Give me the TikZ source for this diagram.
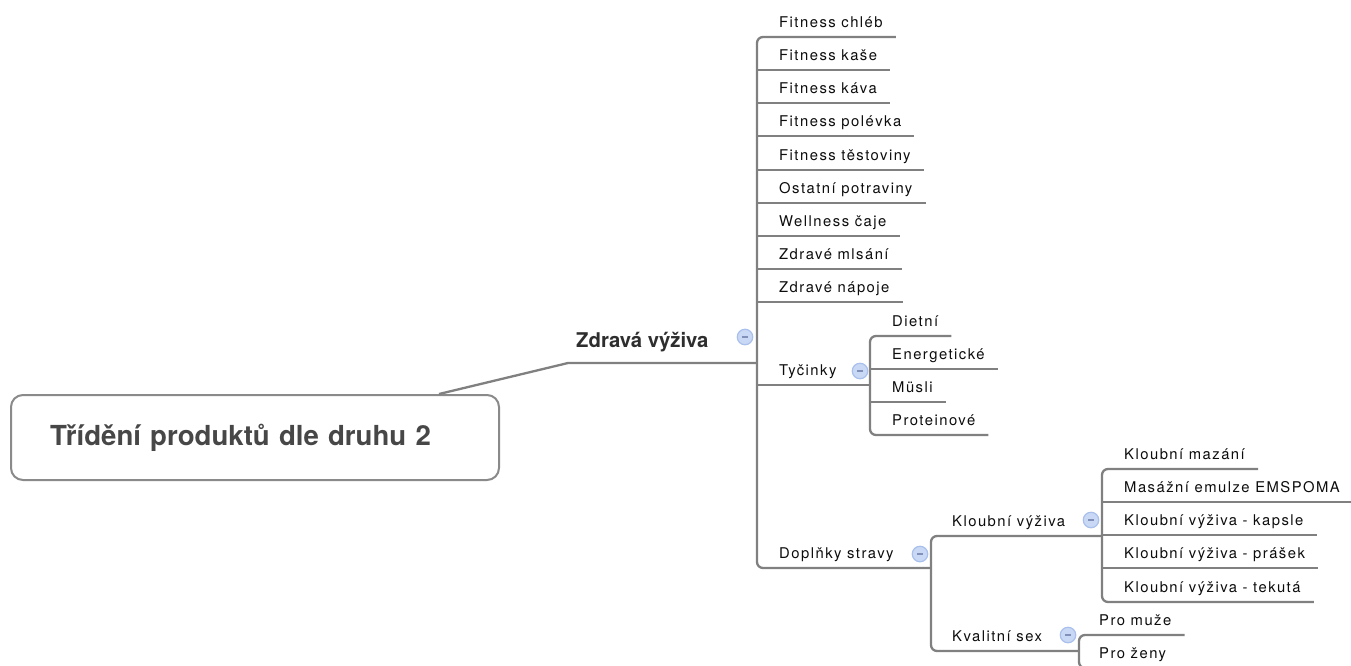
\documentclass[tikz,border=0pt]{standalone}
\usepackage{fontspec}
\setmainfont{TeX Gyre Heros}
\newfontfamily\childfont{TeX Gyre Heros}[LetterSpace=10]
\usetikzlibrary{calc}
\definecolor{linegray}{HTML}{808080}
\definecolor{boxgray}{HTML}{8A8A8A}
\definecolor{titlegray}{HTML}{474747}
\definecolor{zvgray}{HTML}{2E2E2E}
\definecolor{txt}{HTML}{0D0D0D}
\definecolor{tfill}{HTML}{C9D8F4}
\definecolor{tdraw}{HTML}{A9C0EC}
\definecolor{tminus}{HTML}{8090B8}
\newcommand\ul[2]{($(#1.base west)+(#2,10)$)}
\newcommand\ue[1]{($(#1.base east)+(13,10)$)}
\begin{document}
\begin{tikzpicture}[x=1pt,y=-1pt,
  line/.style={draw=linegray,line width=2.3pt},
  leaf/.style={anchor=base west,inner sep=0pt,text=txt,font=\childfont\fontsize{14.8}{17}\selectfont},
  toggle/.style={circle,draw=tdraw,fill=tfill,line width=1.2pt,minimum size=15.5pt,inner sep=0pt,
    path picture={\fill[tminus] ([xshift=-3.3pt,yshift=-1pt]path picture bounding box.center) rectangle ++(6.6pt,2pt);}},
  rootbox/.style={draw=boxgray,line width=2pt,rounded corners=12pt,anchor=north west,
    minimum height=85pt,text width=410pt,inner xsep=39pt,align=left,text=titlegray,
    font=\bfseries\fontsize{27.6}{32}\selectfont},
  zvstyle/.style={anchor=base west,inner sep=0pt,text=zvgray,font=\bfseries\fontsize{20.3}{24}\selectfont}
]
\useasboundingbox (0,0) rectangle (1351,665);
\clip (0,0) rectangle (1351,665);
\fill[white] (0,0) rectangle (1351,665);

% root
\node[rootbox] (root) at (10,394) {Třídění produktů dle druhu 2};
\node[zvstyle] (zv) at (576,347) {Zdravá výživa};
\node[toggle] (zvt) at (745,337) {};

% main children
\node[leaf] (c1) at (779,27) {Fitness chléb};
\node[leaf] (c2) at (779,60) {Fitness kaše};
\node[leaf] (c3) at (779,93) {Fitness káva};
\node[leaf] (c4) at (779,126) {Fitness polévka};
\node[leaf] (c5) at (779,160) {Fitness těstoviny};
\node[leaf] (c6) at (779,193) {Ostatní potraviny};
\node[leaf] (c7) at (779,226) {Wellness čaje};
\node[leaf] (c8) at (779,259) {Zdravé mlsání};
\node[leaf] (c9) at (779,292) {Zdravé nápoje};
\node[leaf] (ty) at (779,375) {Tyčinky};
\node[toggle] (tyt) at (860,371) {};
\node[leaf] (dop) at (779,558) {Doplňky stravy};
\node[toggle] (dopt) at (920,554) {};

% Tyčinky children
\node[leaf] (t1) at (892,326) {Dietní};
\node[leaf] (t2) at (892,359) {Energetické};
\node[leaf] (t3) at (892,392) {Müsli};
\node[leaf] (t4) at (892,425) {Proteinové};

% Doplňky children
\node[leaf] (kv) at (952,526) {Kloubní výživa};
\node[toggle] (kvt) at (1091,520) {};
\node[leaf] (ks) at (952,641) {Kvalitní sex};
\node[toggle] (kst) at (1068,635) {};

\node[leaf] (k1) at (1124,459) {Kloubní mazání};
\node[leaf] (k2) at (1124,492) {Masážní emulze EMSPOMA};
\node[leaf] (k3) at (1124,525) {Kloubní výživa - kapsle};
\node[leaf] (k4) at (1124,558) {Kloubní výživa - prášek};
\node[leaf] (k5) at (1124,592) {Kloubní výživa - tekutá};

\node[leaf] (p1) at (1099,625) {Pro muže};
\node[leaf] (p2) at (1099,658) {Pro ženy};

% junction coordinates
\coordinate (zvj) at (757,363);
\coordinate (tyj) at (870,385);
\coordinate (dopj) at (931,568);
\coordinate (kvj) at (1102,536);
\coordinate (ksj) at (1079,651);

% connectors
\draw[line] ([xshift=-61pt]root.north east) -- ($(zv.base west)+(-8,16)$) -- (zvj);
\draw[line,rounded corners=6pt] \ue{c1} -- \ul{c1}{-22} -- \ul{dop}{-22} -- (dopj);
\foreach \n in {c2,c3,c4,c5,c6,c7,c8,c9}{\draw[line] \ul{\n}{-22} -- \ue{\n};}
\draw[line] \ul{ty}{-22} -- (tyj);

\draw[line,rounded corners=6pt] \ue{t1} -- \ul{t1}{-22} -- \ul{t4}{-22} -- \ue{t4};
\foreach \n in {t2,t3}{\draw[line] \ul{\n}{-22} -- \ue{\n};}

\draw[line,rounded corners=6pt] (kvj) -- \ul{kv}{-21} -- \ul{ks}{-21} -- (ksj);

\draw[line,rounded corners=6pt] \ue{k1} -- \ul{k1}{-22} -- \ul{k5}{-22} -- \ue{k5};
\foreach \n in {k2,k3,k4}{\draw[line] \ul{\n}{-22} -- \ue{\n};}

\draw[line,rounded corners=6pt] \ue{p1} -- \ul{p1}{-20} -- \ul{p2}{-20} -- \ue{p2};
\end{tikzpicture}
\end{document}
